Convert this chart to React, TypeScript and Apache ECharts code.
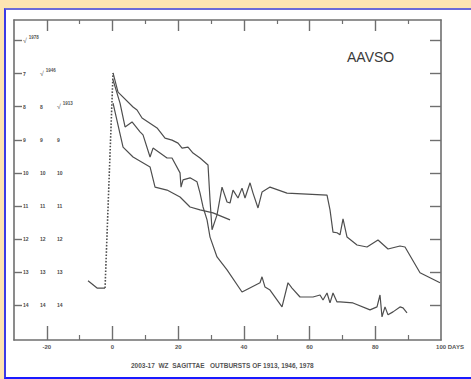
import React, { useEffect, useRef } from 'react';
import * as echarts from 'echarts';

// Magnitude ticks (inverted axis) and the three scale columns
const magTicks = [6, 7, 8, 9, 10, 11, 12, 13, 14];
const yearHeaders = ['1978', '1946', '1913'];
const scaleCol1 = ['', '7', '8', '9', '10', '11', '12', '13', '14'];
const scaleCol2 = ['', '', '8', '9', '10', '11', '12', '13', '14'];
const scaleCol3 = ['', '', '', '9', '10', '11', '12', '13', '14'];

// Day axis ticks
const majorDays = [-20, 0, 20, 40, 60, 80];
const minorDays = [-10, 10, 30, 50, 70, 90];
const dayLabels = [-20, 0, 20, 40, 60, 80, 100];

// Light curves: [day, magnitude]
const preOutburst = [[-7.46, 13.26], [-4.72, 13.48], [-2.28, 13.48]];
const riseDotted = [[-2.28, 13.48], [0.15, 6.98]];

const curve1 = [
  [0.15, 6.98], [1.67, 7.56], [6.24, 8.01], [7.46, 8.1], [8.98, 8.34], [13.55, 8.64],
  [15.98, 8.95], [18.11, 9.01], [19.94, 9.1], [21.16, 9.25], [22.98, 9.22], [24.5, 9.4],
  [26.64, 9.55], [29.07, 9.76], [29.68, 10.82], [30.29, 11.72], [31.81, 11.27], [33.33, 10.43],
  [34.86, 10.88], [35.77, 10.91], [36.68, 10.52], [38.2, 10.76], [39.42, 10.46], [40.33, 10.76],
  [41.86, 10.3], [42.77, 10.61], [44.29, 11.06], [45.51, 10.58], [47.95, 10.43], [53.12, 10.61],
  [65.3, 10.67], [66.21, 11.12], [67.12, 11.79], [68.34, 11.81], [69.25, 11.87], [70.17, 11.39],
  [71.39, 11.94], [74.43, 12.18], [77.47, 12.24], [80.82, 12.03], [83.87, 12.3], [87.52, 12.21],
  [89.04, 12.24], [93.61, 13.02], [99.7, 13.32]
];

const curve2 = [
  [0.15, 7.19], [2.28, 7.89], [3.81, 8.61], [5.94, 8.46], [8.37, 8.76], [9.28, 8.85],
  [11.42, 9.52], [12.33, 9.25], [14.46, 9.4], [16.59, 9.55], [18.11, 9.55], [20.55, 10.0],
  [20.85, 10.43], [21.46, 10.21], [23.59, 10.15], [25.72, 10.27], [26.64, 10.61], [27.55, 11.03],
  [28.77, 11.42], [29.68, 11.94], [31.81, 12.54], [34.86, 12.93], [39.42, 13.6], [44.9, 13.32],
  [45.51, 13.14], [46.42, 13.45], [47.95, 13.54], [51.6, 14.05], [53.42, 13.32], [54.64, 13.48],
  [57.08, 13.75], [61.03, 13.75], [63.17, 13.69], [64.08, 13.84], [65.3, 13.63], [66.21, 13.93],
  [67.12, 13.63], [68.34, 13.9], [69.25, 13.9], [73.21, 13.93], [78.39, 14.14], [80.52, 14.05],
  [81.43, 13.69], [82.04, 14.35], [82.95, 14.05], [83.87, 14.29], [85.39, 14.2], [87.52, 14.05],
  [88.43, 14.08], [89.65, 14.23]
];

const curve3 = [
  [0.15, 7.89], [3.2, 9.22], [6.24, 9.52], [11.42, 9.82], [12.94, 10.43], [16.59, 10.52],
  [20.55, 10.73], [23.59, 11.03], [26.64, 11.12], [30.59, 11.21], [35.77, 11.42]
];

const LINE = '#4e4e4e';
const AXIS = '#6f6f6f';
const TEXT = '#555';

export default function App() {
  const ref = useRef<HTMLDivElement>(null);

  useEffect(() => {
    if (!ref.current) return;
    const chart = echarts.init(ref.current, null, { renderer: 'svg' });
    const scales = [scaleCol1, scaleCol2, scaleCol3];

    const lineSeries = (name: string, data: number[][], type: any = 'solid', width = 1.2) => ({
      name,
      type: 'line',
      data,
      xAxisIndex: 0,
      yAxisIndex: 0,
      symbol: 'none',
      lineStyle: { color: LINE, width, type },
      silent: true,
    });

    const xBase = { type: 'value', min: -30, max: 100, splitLine: { show: false } };
    const yBase = { type: 'value', inverse: true, min: 5.38, max: 15.05, splitLine: { show: false } };

    chart.setOption({
      animation: false,
      backgroundColor: 'transparent',
      title: [
        {
          text: 'AAVSO',
          left: 347,
          top: 50,
          padding: 0,
          textStyle: { fontFamily: 'Liberation Sans, Arial, sans-serif', fontSize: 14, fontWeight: 'normal', color: '#3a3a3a' },
        },
        {
          text: "2003-17  WZ  SAGITTAE   OUTBURSTS OF 1913, 1946, 1978",
          left: 131,
          top: 362,
          padding: 0,
          textStyle: { fontFamily: 'Liberation Sans, Arial, sans-serif', fontSize: 6.5, fontWeight: 'bold', color: TEXT },
        },
      ],
      grid: { left: 14, right: 30, top: 20, bottom: 39, containLabel: false },
      xAxis: [
        {
          ...xBase, position: 'bottom',
          axisLine: { show: true, onZero: false, lineStyle: { color: AXIS, width: 1.6 } },
          axisTick: { show: true, inside: true, length: 14, customValues: majorDays, lineStyle: { color: AXIS, width: 1.4 } },
          axisLabel: {
            show: true, customValues: dayLabels, margin: 4,
            fontSize: 6, fontWeight: 'bold', color: TEXT, fontFamily: 'Liberation Sans, Arial, sans-serif',
            formatter: (v: number) => (Math.round(v) === 100 ? '{sp| }100{u| DAYS}' : String(Math.round(v))),
            rich: {
              sp: { width: 18, fontSize: 6 },
              u: { fontSize: 6, fontWeight: 'bold', color: TEXT },
            },
          },
        },
        {
          ...xBase, position: 'bottom',
          axisLine: { show: false, onZero: false },
          axisTick: { show: true, inside: true, length: 5, customValues: minorDays, lineStyle: { color: AXIS, width: 1.2 } },
          axisLabel: { show: false },
        },
        {
          ...xBase, position: 'top',
          axisLine: { show: true, onZero: false, lineStyle: { color: AXIS, width: 1.6 } },
          axisTick: { show: true, inside: true, length: 11, customValues: majorDays, lineStyle: { color: AXIS, width: 1.4 } },
          axisLabel: { show: false },
        },
        {
          ...xBase, position: 'top',
          axisLine: { show: false, onZero: false },
          axisTick: { show: true, inside: true, length: 4, customValues: minorDays, lineStyle: { color: AXIS, width: 1.2 } },
          axisLabel: { show: false },
        },
      ],
      yAxis: [
        {
          ...yBase, position: 'left',
          axisLine: { show: true, onZero: false, lineStyle: { color: AXIS, width: 1.6 } },
          axisTick: { show: true, inside: true, length: 8, customValues: magTicks, lineStyle: { color: AXIS, width: 1.4 } },
          axisLabel: {
            show: true, inside: true, customValues: magTicks, margin: 9, align: 'left',
            fontFamily: 'Liberation Sans, Arial, sans-serif',
            formatter: (v: number) => {
              const idx = magTicks.indexOf(Math.round(v));
              let s = '';
              for (let k = 0; k < 3; k++) {
                if (idx === k) {
                  s += `{h|√}{s|${yearHeaders[k]}}`;
                  break;
                } else if (idx > k) {
                  s += `{c|${scales[k][idx]}}`;
                }
              }
              return s;
            },
            rich: {
              c: { width: 17, fontSize: 5, fontWeight: 'bold', color: '#4a4a4a', align: 'left' },
              h: { fontSize: 7, color: '#666', padding: [0, 2, 0, 0] },
              s: { fontSize: 4.5, fontWeight: 'bold', color: '#555', padding: [0, 0, 6, 0] },
            },
          },
        },
        {
          ...yBase, position: 'right',
          axisLine: { show: true, onZero: false, lineStyle: { color: AXIS, width: 1.6 } },
          axisTick: { show: true, inside: true, length: 11, customValues: magTicks, lineStyle: { color: AXIS, width: 1.4 } },
          axisLabel: { show: false },
        },
      ],
      series: [
        lineSeries('pre', preOutburst),
        lineSeries('rise', riseDotted, 'dotted', 1.6),
        lineSeries('1978', curve1),
        lineSeries('1946', curve2),
        lineSeries('1913', curve3),
      ],
    });

    return () => chart.dispose();
  }, []);

  return (
    <div style={{ position: 'fixed', left: 0, top: 0, width: 471, height: 379, background: '#fde4b2', overflow: 'hidden' }}>
      <div
        style={{
          position: 'absolute', left: 4, top: 8, width: 470, height: 367,
          background: '#ffffff',
          borderTop: '2px solid #6b6ad8',
          borderLeft: '2px solid #3b3be6',
          borderBottom: '2px solid #1a1aff',
        }}
      />
      <div ref={ref} style={{ position: 'absolute', left: 0, top: 0, width: 471, height: 379 }} />
    </div>
  );
}
